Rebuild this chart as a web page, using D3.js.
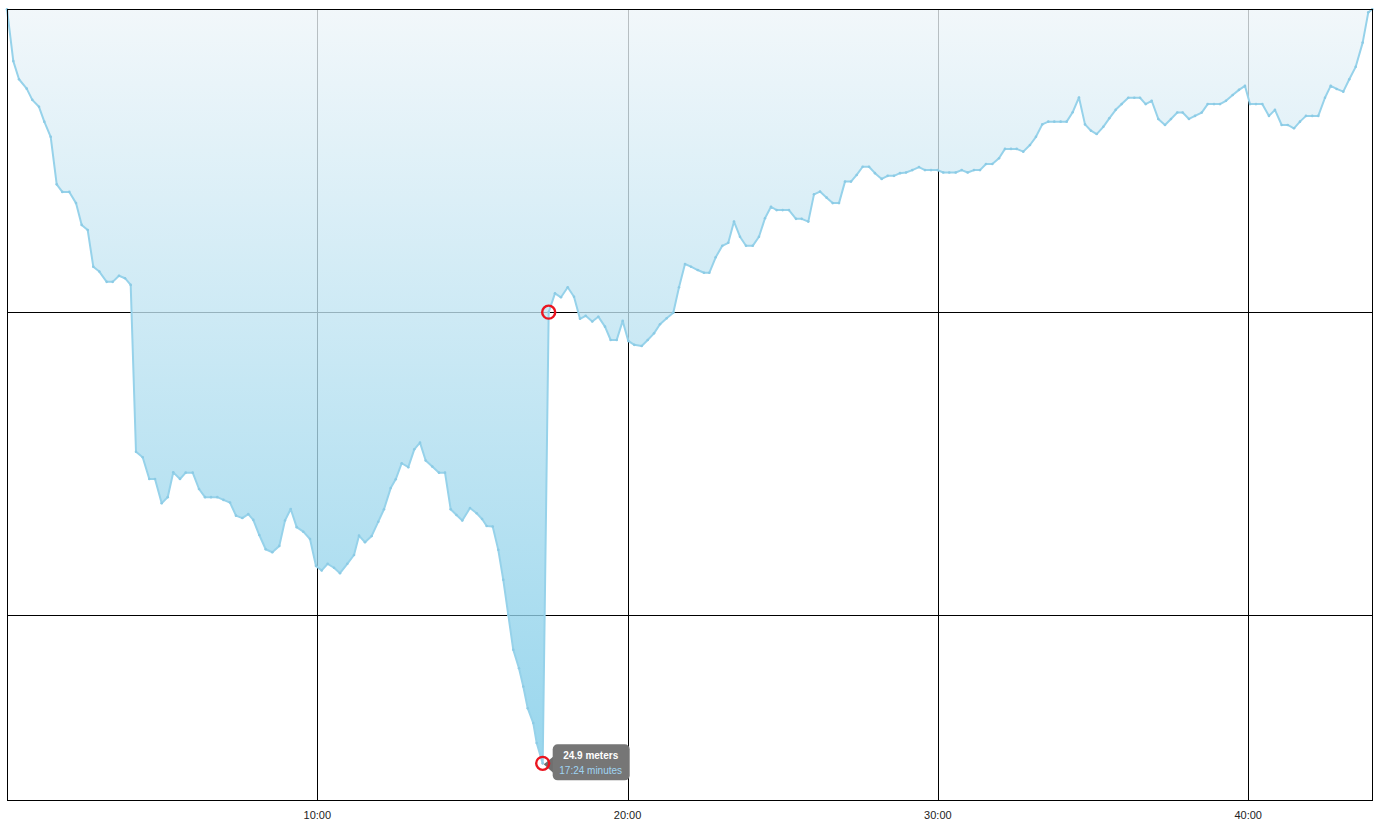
<!DOCTYPE html>
<html>
<head>
<meta charset="utf-8">
<script src="https://cdn.jsdelivr.net/npm/d3@7"></script>
<style>
  html, body { margin: 0; padding: 0; background: #fff; }
  svg { display: block; }
  text { font-family: "Liberation Sans", Arial, sans-serif; }
</style>
</head>
<body>
<svg id="chart" width="1383" height="831"></svg>
<script>
// time in minutes
const times = [0, 0.203, 0.387, 0.635, 0.815, 1.031, 1.202, 1.408, 1.602, 1.782, 2.008, 2.224, 2.407, 2.601, 2.781, 2.975, 3.213, 3.406, 3.609, 3.803, 3.986,
  4.157, 4.373, 4.586, 4.770, 4.985, 5.179, 5.359, 5.575, 5.759, 5.985, 6.188, 6.381, 6.574, 6.777, 6.977, 7.187, 7.380, 7.583, 7.776, 7.937,
  8.131, 8.337, 8.550, 8.775, 8.959, 9.143, 9.336, 9.549, 9.765, 9.958, 10.142, 10.335, 10.538, 10.732, 10.967, 11.183, 11.344, 11.537, 11.753, 11.966,
  12.149, 12.365, 12.527, 12.720, 12.933, 13.126, 13.310, 13.493, 13.706, 13.922, 14.116, 14.299, 14.486, 14.673, 14.921, 15.137, 15.31, 15.459, 15.653, 15.833,
  15.994, 16.155, 16.316, 16.500, 16.639, 16.781, 16.961, 17.071, 17.264, 17.457, 17.660, 17.854, 18.070, 18.273, 18.466, 18.650, 18.862, 19.056, 19.272, 19.455,
  19.649, 19.842, 20.023, 20.216, 20.454, 20.648, 20.851, 21.044, 21.260, 21.473, 21.657, 21.850, 22.043, 22.259, 22.462, 22.633, 22.839, 23.052, 23.245, 23.429,
  23.622, 23.816, 24.032, 24.234, 24.428, 24.621, 24.805, 24.998, 25.201, 25.427, 25.611, 25.824, 26.007, 26.201, 26.416, 26.610, 26.813, 27.006, 27.199, 27.383,
  27.576, 27.780, 27.973, 28.189, 28.382, 28.585, 28.779, 28.972, 29.175, 29.391, 29.584, 29.778, 29.993, 30.174, 30.367, 30.574, 30.767, 30.960, 31.163, 31.357,
  31.550, 31.753, 31.969, 32.162, 32.356, 32.539, 32.752, 32.968, 33.161, 33.364, 33.558, 33.751, 33.957, 34.151, 34.344, 34.547, 34.741, 34.934, 35.118, 35.331,
  35.524, 35.730, 35.923, 36.136, 36.330, 36.513, 36.697, 36.890, 37.103, 37.319, 37.512, 37.715, 37.889, 38.092, 38.286, 38.502, 38.695, 38.898, 39.091, 39.285,
  39.501, 39.704, 39.897, 40.058, 40.251, 40.454, 40.670, 40.863, 41.079, 41.273, 41.476, 41.669, 41.862, 42.066, 42.259, 42.475, 42.659, 42.852, 43.065, 43.258,
  43.465, 43.690, 43.871, 44.0];
// depth in meters
const depths = [0, 1.71, 2.31, 2.62, 2.99, 3.22, 3.71, 4.21, 5.78, 6.03, 6.03, 6.40, 7.12, 7.29, 8.50, 8.66, 9.00, 9.00, 8.80, 8.88, 9.10,
  14.61, 14.79, 15.51, 15.51, 16.31, 16.11, 15.29, 15.51, 15.30, 15.30, 15.84, 16.11, 16.11, 16.11, 16.20, 16.29, 16.72, 16.80, 16.67, 16.86,
  17.36, 17.83, 17.93, 17.72, 16.88, 16.50, 17.10, 17.25, 17.49, 18.38, 18.53, 18.31, 18.44, 18.62, 18.31, 18.02, 17.38, 17.60, 17.39, 16.92,
  16.51, 15.81, 15.52, 14.99, 15.12, 14.53, 14.31, 14.90, 15.10, 15.30, 15.30, 16.51, 16.70, 16.88, 16.47, 16.64, 16.83, 17.06, 17.08, 17.85,
  18.84, 20.00, 21.15, 21.76, 22.36, 23.08, 23.57, 24.23, 24.9, 10.00, 9.38, 9.51, 9.18, 9.49, 10.22, 10.12, 10.31, 10.15, 10.48, 10.92,
  10.92, 10.29, 10.95, 11.08, 11.12, 10.92, 10.70, 10.40, 10.20, 10.02, 9.18, 8.41, 8.50, 8.61, 8.70, 8.70, 8.19, 7.81, 7.71, 7.01,
  7.51, 7.81, 7.81, 7.51, 6.90, 6.52, 6.63, 6.63, 6.63, 6.92, 6.92, 7.01, 6.11, 6.02, 6.22, 6.40, 6.40, 5.69, 5.69, 5.47,
  5.20, 5.20, 5.41, 5.60, 5.50, 5.50, 5.41, 5.39, 5.31, 5.21, 5.31, 5.31, 5.31, 5.39, 5.39, 5.39, 5.31, 5.39, 5.31, 5.31,
  5.11, 5.11, 4.92, 4.61, 4.61, 4.61, 4.70, 4.48, 4.21, 3.80, 3.71, 3.71, 3.71, 3.71, 3.40, 2.91, 3.80, 4.01, 4.12, 3.88,
  3.60, 3.32, 3.13, 2.92, 2.92, 2.92, 3.13, 3.02, 3.62, 3.82, 3.62, 3.41, 3.41, 3.62, 3.52, 3.41, 3.13, 3.13, 3.13, 3.02,
  2.83, 2.66, 2.53, 3.13, 3.13, 3.13, 3.52, 3.32, 3.82, 3.82, 3.93, 3.71, 3.52, 3.52, 3.52, 2.92, 2.53, 2.63, 2.72, 2.31,
  1.90, 1.10, 0.10, 0];

const xTicks = [10, 20, 30, 40];
const xTickLabels = ["10:00", "20:00", "30:00", "40:00"];
const yGrid = [10, 20];
const xDomain = [0, 44];
const yDomain = [0, 26.1];
const highlightDepth = 10.0;
const tipLines = ["24.9 meters", "17:24 minutes"];

(function () {
const data = times.map((t, i) => ({ t, d: depths[i] }));

const svg = d3.select("#chart");
const pLeft = 7, pTop = 9.3, pRight = 1372.3, pBottom = 799.7;
const x = d3.scaleLinear().domain(xDomain).range([pLeft, pRight]);
const y = d3.scaleLinear().domain(yDomain).range([pTop, pBottom]);

// gradient
const defs = svg.append("defs");
const grad = defs.append("linearGradient").attr("id", "fillGrad")
  .attr("gradientUnits", "userSpaceOnUse")
  .attr("x1", 0).attr("x2", 0).attr("y1", y(0)).attr("y2", y(24.9));
grad.append("stop").attr("offset", "0%").attr("stop-color", "#eef5f9");
grad.append("stop").attr("offset", "100%").attr("stop-color", "#7ccbe8");

// grid
const grid = svg.append("g").attr("shape-rendering", "crispEdges");
grid.selectAll("line.v").data(xTicks).join("line").attr("class", "v")
  .attr("x1", d => Math.round(x(d)) + 0.5).attr("x2", d => Math.round(x(d)) + 0.5)
  .attr("y1", pTop).attr("y2", pBottom).attr("stroke", "#000");
grid.selectAll("line.h").data(yGrid).join("line").attr("class", "h")
  .attr("x1", pLeft).attr("x2", pRight)
  .attr("y1", d => Math.round(y(d)) + 0.5).attr("y2", d => Math.round(y(d)) + 0.5)
  .attr("stroke", "#000");

// area
const area = d3.area().x(d => x(d.t)).y0(y(0)).y1(d => y(d.d));
svg.append("path").datum(data).attr("d", area)
  .attr("fill", "url(#fillGrad)").attr("fill-opacity", 0.78);

const line = d3.line().x(d => x(d.t)).y(d => y(d.d));
svg.append("path").datum(data).attr("d", line)
  .attr("fill", "none").attr("stroke", "#96d2ea").attr("stroke-width", 2)
  .attr("stroke-linejoin", "round");
svg.append("g").selectAll("circle").data(data).join("circle")
  .attr("cx", d => x(d.t)).attr("cy", d => y(d.d)).attr("r", 1.3)
  .attr("fill", "#8ccbe5");

// border
svg.append("rect").attr("x", pLeft + 0.5).attr("y", Math.round(pTop) + 0.5)
  .attr("width", Math.round(pRight) - pLeft).attr("height", Math.round(pBottom) - Math.round(pTop))
  .attr("fill", "none").attr("stroke", "#000").attr("shape-rendering", "crispEdges");

// x tick labels
svg.append("g").selectAll("text").data(xTicks).join("text")
  .attr("x", d => x(d)).attr("y", 819)
  .attr("text-anchor", "middle").attr("font-size", 11).attr("fill", "#222")
  .text((d, i) => xTickLabels[i]);

// highlight points
const deepest = data.reduce((a, b) => (b.d > a.d ? b : a));
const mark = data.find(d => d.d === highlightDepth);

// tooltip
const tx = x(deepest.t), ty = y(deepest.d);
const tip = svg.append("g");
tip.append("path")
  .attr("d", `M${tx + 1},${ty + 1} L${tx + 11},${ty - 7} L${tx + 11},${ty + 10} Z`)
  .attr("fill", "#6f6f6f");
tip.append("rect").attr("x", tx + 10).attr("y", ty - 19).attr("width", 77).attr("height", 36)
  .attr("rx", 5).attr("fill", "#767676");
tip.append("text").attr("x", tx + 48).attr("y", ty - 4).attr("text-anchor", "middle")
  .attr("font-size", 10).attr("font-weight", "bold").attr("fill", "#fff").text(tipLines[0]);
tip.append("text").attr("x", tx + 48).attr("y", ty + 11).attr("text-anchor", "middle")
  .attr("font-size", 10).attr("fill", "#9fd4f2").text(tipLines[1]);

[deepest, mark].forEach(p => {
  svg.append("circle").attr("cx", x(p.t)).attr("cy", y(p.d)).attr("r", 6.5)
    .attr("fill", "none").attr("stroke", "#ea1520").attr("stroke-width", 2.4);
});
})();
</script>
</body>
</html>
